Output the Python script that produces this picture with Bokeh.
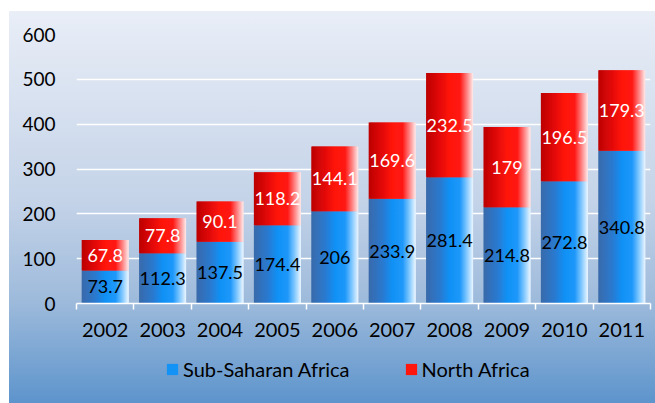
import numpy as np
from bokeh.plotting import figure
from bokeh.layouts import column
from bokeh.models import ColumnDataSource, FixedTicker, Legend, LegendItem
from bokeh.core.properties import value
from bokeh.embed import file_html
from bokeh.resources import INLINE

years = ["2002", "2003", "2004", "2005", "2006", "2007", "2008", "2009", "2010", "2011"]
sub_saharan = [73.7, 112.3, 137.5, 174.4, 206, 233.9, 281.4, 214.8, 272.8, 340.8]
north_africa = [67.8, 77.8, 90.1, 118.2, 144.1, 169.6, 232.5, 179, 196.5, 179.3]
y_ticks = [0, 100, 200, 300, 400, 500, 600]
series_names = ["Sub-Saharan Africa", "North Africa"]

FONT = "Lato"
N = 48
BAR_W = 0.82

blue_stops = [(0.0, (58, 106, 170)), (0.3, (42, 122, 208)), (0.5, (16, 145, 245)),
              (0.72, (30, 152, 250)), (0.86, (125, 198, 255)), (1.0, (238, 247, 255))]
red_stops = [(0.0, (188, 0, 0)), (0.3, (228, 10, 10)), (0.5, (255, 22, 10)),
             (0.72, (255, 24, 20)), (0.86, (255, 125, 125)), (1.0, (255, 236, 236))]


def grad(stops, t):
    for (t0, c0), (t1, c1) in zip(stops[:-1], stops[1:]):
        if t <= t1:
            f = (t - t0) / (t1 - t0)
            c = [int(round(a + (b - a) * f)) for a, b in zip(c0, c1)]
            return "#%02x%02x%02x" % tuple(c)
    return "#%02x%02x%02x" % stops[-1][1]


def fmt(v):
    return ("%g" % v)


centers = np.arange(len(years)) + 0.5
sw = BAR_W / N


def slice_source(bottoms, tops, stops):
    xs, bs, ts, cs, ws = [], [], [], [], []
    for k in range(N):
        t = (k + 0.5) / N
        col = grad(stops, t)
        w = sw * 1.8 if k < N - 1 else sw
        for c, b, tp in zip(centers, bottoms, tops):
            xs.append(c - BAR_W / 2 + k * sw + w / 2)
            bs.append(b)
            ts.append(tp)
            cs.append(col)
            ws.append(w)
    return ColumnDataSource(dict(x=xs, bottom=bs, top=ts, color=cs, w=ws))


ssa = np.array(sub_saharan)
na = np.array(north_africa)
src_blue = slice_source(np.zeros_like(ssa), ssa, blue_stops)
src_red = slice_source(ssa, ssa + na, red_stops)

TOP_H = 353
p = figure(frame_width=574, frame_height=269, x_range=(0, 10), y_range=(0, 600),
           output_backend="svg", toolbar_location=None,
           min_border_left=76, min_border_right=5, min_border_top=34, min_border_bottom=TOP_H - 34 - 269)
p.background_fill_alpha = 0
p.border_fill_alpha = 0
p.outline_line_color = None

r_blue = p.vbar(x="x", width="w", bottom="bottom", top="top", source=src_blue,
                fill_color="color", line_color=None)
r_red = p.vbar(x="x", width="w", bottom="bottom", top="top", source=src_red,
               fill_color="color", line_color=None)

lab_blue = ColumnDataSource(dict(x=centers, y=ssa / 2, t=[fmt(v) for v in sub_saharan]))
lab_red = ColumnDataSource(dict(x=centers, y=ssa + na / 2, t=[fmt(v) for v in north_africa]))
p.text(x="x", y="y", text="t", source=lab_blue, text_font=value(FONT), text_font_size="18px",
       text_color="#000000", text_align="center", text_baseline="middle")
p.text(x="x", y="y", text="t", source=lab_red, text_font=value(FONT), text_font_size="18px",
       text_color="#ffffff", text_align="center", text_baseline="middle")

# axes
p.xaxis.ticker = FixedTicker(ticks=list(centers), minor_ticks=list(range(0, 11)))
p.xaxis.major_label_overrides = {float(c): y for c, y in zip(centers, years)}
p.xaxis.major_tick_line_color = None
p.xaxis.major_tick_out = 0
p.xaxis.major_tick_in = 0
p.xaxis.minor_tick_line_color = "#ffffff"
p.xaxis.minor_tick_line_width = 1.5
p.xaxis.minor_tick_out = 6
p.xaxis.minor_tick_in = 0
p.xaxis.axis_line_color = "#ffffff"
p.xaxis.axis_line_width = 1.5
p.xaxis.major_label_text_font = FONT
p.xaxis.major_label_text_font_size = "20px"
p.xaxis.major_label_text_color = "#000000"
p.xaxis.major_label_standoff = 13

p.yaxis.ticker = FixedTicker(ticks=y_ticks)
p.yaxis.axis_line_color = None
p.yaxis.major_tick_line_color = None
p.yaxis.minor_tick_line_color = None
p.yaxis.major_tick_out = 0
p.yaxis.major_label_text_font = FONT
p.yaxis.major_label_text_font_size = "19px"
p.yaxis.major_label_text_color = "#000000"
p.yaxis.major_label_standoff = 21

p.xgrid.grid_line_color = None
p.ygrid.grid_line_color = "#ffffff"
p.ygrid.grid_line_width = 1.5

# legend strip
BOT_H = 403 - TOP_H
p2 = figure(width=655, height=BOT_H, x_range=(0, 1), y_range=(0, 1),
            x_axis_location=None, y_axis_location=None,
            output_backend="svg", toolbar_location=None,
            min_border=0, min_border_left=0, min_border_right=0, min_border_top=0, min_border_bottom=0)
p2.background_fill_alpha = 0
p2.border_fill_alpha = 0
p2.outline_line_color = None
p2.grid.visible = False
# placeholder glyphs kept outside the visible range; they only feed the legend swatches
lb = p2.vbar(x=[5], bottom=[5], top=[6], width=0.1, fill_color=grad(blue_stops, 0.55), line_color=None)
lr = p2.vbar(x=[5], bottom=[5], top=[6], width=0.1, fill_color=grad(red_stops, 0.55), line_color=None)

legend = Legend(items=[LegendItem(label=series_names[0], renderers=[lb]),
                       LegendItem(label=series_names[1], renderers=[lr])],
                orientation="horizontal", location=(89, 22))
legend.background_fill_alpha = 0
legend.border_line_color = None
legend.label_text_font = FONT
legend.label_text_font_size = "20px"
legend.label_text_color = "#000000"
legend.glyph_width = 14
legend.glyph_height = 14
legend.spacing = 54
legend.label_standoff = 4
legend.margin = 0
legend.padding = 4
p2.add_layout(legend, "center")

lay = column(p, p2, spacing=0)
lay.styles = {"background": "linear-gradient(to right, #ffffff 9px, rgba(255,255,255,0) 9px), "
                            "linear-gradient(to bottom, #ffffff 11px, #e9eef7 11px, #c4d3e8 50%, #9dbadb 75%, #5d94cc 100%)"}

open("out.html", "w").write(file_html(lay, INLINE))
